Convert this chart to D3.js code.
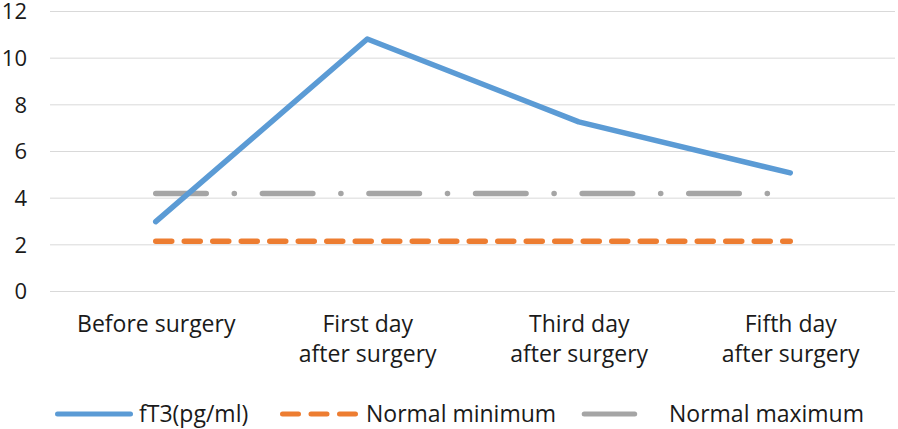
<!DOCTYPE html>
<html>
<head>
<meta charset="utf-8">
<script src="https://cdn.jsdelivr.net/npm/d3@7"></script>
<style>
  html, body { margin: 0; padding: 0; background: #fff; }
  svg { display: block; }
  text { font-family: "Open Sans", "Noto Sans", "DejaVu Sans", sans-serif; fill: #1a1a1a; }
</style>
</head>
<body>
<svg id="chart" width="898" height="429"></svg>
<script>
const categories = [["Before surgery"], ["First day", "after surgery"], ["Third day", "after surgery"], ["Fifth day", "after surgery"]];
const categoryKeys = ["Before surgery", "First day after surgery", "Third day after surgery", "Fifth day after surgery"];
const fT3 = [2.97, 10.8, 7.25, 5.06];
const normalMin = [2.13, 2.13, 2.13, 2.13];
const normalMax = [4.18, 4.18, 4.18, 4.18];
const yTicks = [0, 2, 4, 6, 8, 10, 12];
const seriesNames = ["fT3(pg/ml)", "Normal minimum", "Normal maximum"];

const FONT = "'Open Sans', 'Noto Sans', sans-serif";
const svg = d3.select("#chart");
const plotLeft = 50, plotRight = 896, plotTop = 11, plotBottom = 291;

const x = d3.scalePoint().domain(categoryKeys).range([plotLeft, plotRight]).padding(0.5);
const y = d3.scaleLinear().domain([0, 12]).range([plotBottom, plotTop]);

// Gridlines + y labels
const yAxis = svg.append("g").attr("transform", `translate(${plotLeft},0)`)
  .call(d3.axisLeft(y).tickValues(yTicks).tickSize(-(plotRight - plotLeft - 1)).tickPadding(23).tickFormat(d3.format("d")));
yAxis.select(".domain").remove();
yAxis.selectAll(".tick line").attr("stroke", "#d9d9d9").attr("stroke-width", 1);
yAxis.selectAll(".tick text").attr("font-size", 22).attr("fill", "#1a1a1a").attr("dy", "0.36em")
  .style("font-family", FONT);

// X labels
const xAxis = svg.append("g").attr("transform", `translate(0,${plotBottom})`)
  .call(d3.axisBottom(x).tickSize(0).tickFormat(() => ""));
xAxis.select(".domain").remove();
xAxis.selectAll(".tick").each(function(d, i) {
  const t = d3.select(this).select("text").attr("y", 0).attr("dy", 0)
    .attr("font-size", 23).attr("fill", "#1a1a1a")
    .style("font-family", FONT);
  categories[i].forEach((line, j) => {
    t.append("tspan").attr("x", 0).attr("y", 40.7 + j * 30).text(line);
  });
});

const line = d3.line().x((d, i) => x(categoryKeys[i])).y(d => y(d));

const styles = [
  { data: fT3, color: "#5B9BD5", dash: null },
  { data: normalMin, color: "#ED7D31", dash: "16,12.5" },
  { data: normalMax, color: "#A5A5A5", dash: "50.5,28,0.1,28" }
];

[2, 1, 0].forEach(k => {
  const s = styles[k];
  svg.append("path").datum(s.data)
    .attr("d", line)
    .attr("fill", "none")
    .attr("stroke", s.color)
    .attr("stroke-width", 5.5)
    .attr("stroke-linecap", "round")
    .attr("stroke-linejoin", "round")
    .attr("stroke-dasharray", s.dash);
});

// Legend
const legendY = 414;
const legendItems = [
  { x0: 57.5, x1: 130.5, tx: 139 },
  { x0: 282.5, x1: 355.5, tx: 366 },
  { x0: 584.2, x1: 657.5, tx: 669 }
];
legendItems.forEach((it, k) => {
  const s = styles[k];
  svg.append("line")
    .attr("x1", it.x0).attr("x2", it.x1).attr("y1", legendY).attr("y2", legendY)
    .attr("stroke", s.color).attr("stroke-width", 5)
    .attr("stroke-linecap", "round")
    .attr("stroke-dasharray", k === 1 ? "16,12.5" : (k === 2 ? "50.5,40" : null));
  svg.append("text").attr("x", it.tx).attr("y", 421.7)
    .attr("font-size", 23).style("font-family", FONT).text(seriesNames[k]);
});
</script>
</body>
</html>
